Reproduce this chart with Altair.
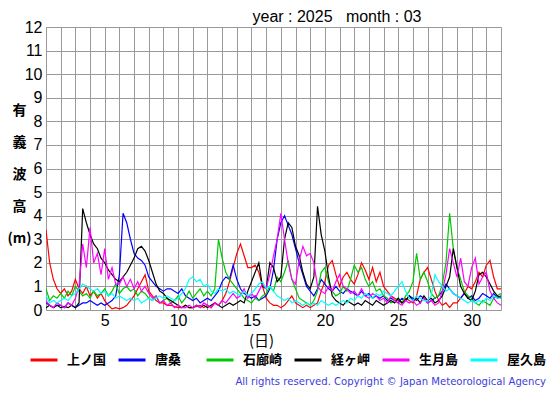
import altair as alt
import pandas as pd

stations = ["上ノ国", "唐桑", "石廊崎", "経ヶ岬", "生月島", "屋久島"]
colors = ["#ff0000", "#0000ff", "#00c800", "#000000", "#ff00ff", "#00ffff"]

# 6-hourly samples, day 1.00 .. 32.00 (4 per day)
red = [3.4, 2.0, 1.3, 0.9, 0.7, 0.9, 0.6, 0.8, 1.3, 0.9, 0.7, 1.0, 0.6, 0.8, 0.5, 0.7,
       0.4, 0.2, 0.05, 0.1, 0.05, 0.1, 0.2, 0.4, 0.6, 0.9, 1.2, 1.5, 0.8, 0.6, 0.4, 0.3,
       0.3, 0.2, 0.2, 0.15, 0.1, 0.1, 0.2, 0.1, 0.1, 0.15, 0.2, 0.1, 0.2, 0.1, 0.3, 0.2,
       0.4, 0.7, 1.2, 1.8, 2.4, 2.8, 2.3, 1.8, 1.8, 1.9, 1.6, 1.0, 0.5, 0.3, 0.2, 0.2,
       0.1, 0.2, 0.4, 0.6, 0.3, 0.2, 0.1, 0.2, 0.1, 0.2, 0.3, 0.8, 1.2, 1.9, 2.1, 1.5,
       1.0, 1.4, 1.6, 1.3, 1.1, 1.5, 2.0, 1.7, 1.3, 1.8, 1.2, 1.6, 1.0, 0.8, 0.6, 0.5,
       0.4, 0.3, 0.5, 0.4, 0.3, 0.6, 1.3, 1.6, 1.8, 1.3, 0.8, 0.4, 0.2, 0.3, 0.1, 0.3,
       0.3, 0.5, 0.7, 1.0, 0.9, 1.2, 1.6, 1.4, 1.9, 2.1, 1.4, 0.9, 0.9]
blue = [0.3, 0.2, 0.1, 0.2, 0.2, 0.1, 0.3, 0.2, 0.1, 0.2, 0.3, 0.3, 0.4, 0.3, 0.2, 0.3,
        0.2, 0.3, 0.4, 0.6, 1.5, 4.1, 3.7, 3.0, 2.4, 2.2, 2.1, 1.9, 1.4, 1.2, 1.0, 0.9,
        0.8, 0.9, 0.9, 0.8, 0.7, 0.9, 0.6, 0.5, 0.4, 0.5, 0.3, 0.4, 0.5, 0.4, 0.6, 0.8,
        1.2, 1.4, 1.3, 1.9, 1.3, 0.9, 0.7, 0.6, 0.5, 0.6, 0.4, 0.5, 0.6, 0.9, 1.7, 3.0,
        3.7, 4.0, 3.6, 3.2, 2.6, 2.0, 1.5, 1.0, 0.8, 0.6, 0.9, 1.3, 1.1, 0.9, 0.8, 1.0,
        0.8, 0.7, 0.9, 0.8, 0.7, 0.6, 0.8, 0.6, 0.7, 0.5, 0.6, 0.5, 0.6, 0.4, 0.5, 0.4,
        0.3, 0.5, 0.4, 0.6, 0.5, 0.4, 0.6, 0.5, 0.3, 0.4, 0.5, 0.6, 0.8, 1.1, 0.9, 0.7,
        0.6, 0.5, 0.7, 0.5, 0.6, 0.4, 0.5, 0.7, 0.6, 0.5, 0.7, 0.5, 0.6]
green = [0.9, 0.4, 0.6, 0.5, 0.7, 0.5, 0.8, 0.6, 1.0, 0.8, 0.6, 0.7, 0.5, 0.8, 0.6, 0.7,
         0.9, 0.6, 0.8, 1.1, 0.7, 0.9, 1.0, 0.8, 0.9, 0.6, 0.8, 0.7, 0.5, 0.4, 0.6, 0.3,
         0.4, 0.5, 0.3, 0.4, 0.6, 0.3, 0.5, 0.8, 0.5, 0.7, 0.9, 0.6, 0.8, 0.6, 0.9, 3.0,
         2.2, 1.6, 1.3, 1.1, 0.9, 0.7, 0.5, 0.4, 0.3, 0.5, 0.4, 0.6, 0.7, 1.0, 0.8, 1.4,
         1.2, 1.6, 2.1, 1.3, 0.9, 0.5, 0.4, 0.3, 0.2, 0.4, 0.8, 1.6, 1.8, 1.2, 0.8, 0.6,
         0.7, 1.0, 0.8, 1.3, 1.9, 1.6, 1.8, 1.3, 1.0, 1.2, 0.8, 0.9, 0.6, 0.5, 0.3, 0.4,
         0.5, 0.3, 0.6, 0.8, 1.2, 2.4, 1.3, 1.6, 1.2, 0.7, 0.5, 0.6, 1.1, 2.0, 4.1, 2.6,
         1.8, 1.3, 0.8, 0.6, 0.5, 0.3, 0.2, 0.4, 0.3, 0.2, 0.5, 0.6, 0.7]
black = [0.1, 0.2, 0.1, 0.2, 0.1, 0.15, 0.1, 0.2, 0.1, 0.3, 4.3, 3.7, 3.2, 2.8, 2.6, 2.2,
         2.0, 1.7, 1.5, 1.3, 1.2, 1.4, 1.6, 1.9, 2.2, 2.6, 2.7, 2.5, 2.1, 1.6, 1.1, 0.8,
         0.7, 0.5, 0.4, 0.3, 0.2, 0.1, 0.2, 0.1, 0.1, 0.2, 0.1, 0.2, 0.1, 0.2, 0.3, 0.2,
         0.1, 0.2, 0.3, 0.2, 0.3, 0.4, 0.3, 0.8, 1.2, 1.6, 2.0, 1.0, 0.9, 2.0, 1.8, 1.2,
         1.4, 3.0, 3.7, 3.5, 2.7, 2.3, 1.6, 1.1, 0.9, 1.4, 4.4, 3.2, 2.5, 1.4, 0.6, 0.4,
         0.3, 0.2, 0.4, 0.3, 0.2, 0.3, 0.2, 0.4, 0.3, 0.2, 0.4, 0.3, 0.2, 0.3, 0.4, 0.3,
         0.5, 0.3, 0.4, 0.6, 0.4, 0.5, 0.3, 0.6, 0.4, 0.5, 0.3, 0.4, 0.6, 1.0, 1.4, 2.6,
         1.8, 1.0, 0.7, 0.5, 0.4, 0.8, 1.5, 1.6, 1.4, 1.1, 0.8, 0.6, 0.5]
magenta = [0.4, 0.2, 0.1, 0.3, 0.2, 0.1, 0.3, 0.2, 0.5, 1.0, 2.8, 1.8, 3.5, 2.0, 2.4, 1.5,
           2.6, 1.3, 1.8, 1.1, 1.1, 1.4, 1.0, 1.3, 0.9, 1.2, 0.8, 1.0, 0.7, 0.5, 0.6, 0.3,
           0.4, 0.2, 0.3, 0.1, 0.2, 0.1, 0.1, 0.2, 0.1, 0.2, 0.1, 0.3, 0.2, 0.1, 0.3, 0.2,
           0.4, 0.3, 0.5, 0.7, 0.5, 0.6, 0.9, 0.5, 0.7, 0.5, 0.8, 1.1, 0.9, 1.5, 2.3, 3.0,
           4.1, 3.0, 2.0, 1.3, 1.1, 2.1, 2.7, 2.3, 2.4, 2.0, 1.0, 0.8, 0.7, 1.0, 0.8, 1.2,
           1.5, 1.0, 0.9, 0.7, 0.8, 0.6, 0.9, 0.6, 0.5, 0.7, 0.6, 0.4, 0.5, 0.3, 0.6, 0.4,
           0.3, 0.2, 0.4, 0.3, 0.4, 0.2, 0.3, 0.5, 0.3, 0.4, 0.2, 0.3, 0.8, 1.5, 2.6, 2.0,
           1.4, 2.2, 1.2, 1.0, 1.8, 2.2, 1.1, 1.4, 1.6, 0.8, 0.5, 0.3, 0.2]
cyan = [0.6, 0.3, 0.4, 0.3, 0.4, 0.5, 0.4, 0.6, 0.7, 0.9, 1.1, 1.0, 0.9, 0.8, 0.9, 0.7,
        0.8, 0.6, 0.7, 0.5, 0.6, 0.5, 0.4, 0.5, 0.4, 0.5, 0.3, 0.4, 0.5, 0.4, 0.5, 0.6,
        0.5, 0.6, 0.5, 0.4, 0.5, 0.7, 0.9, 1.3, 1.4, 1.2, 1.3, 1.0, 1.1, 0.8, 0.7, 0.9,
        0.8, 0.9, 0.7, 0.8, 0.7, 0.6, 0.8, 0.6, 0.7, 0.9, 1.1, 1.2, 0.9, 1.0, 0.8, 0.6,
        0.5, 0.4, 0.5, 0.3, 0.4, 0.3, 0.2, 0.3, 0.2, 0.3, 0.2, 0.4, 0.3, 0.2, 0.3, 0.2,
        0.3, 0.4, 0.3, 0.5, 0.4, 0.6, 0.5, 0.7, 0.6, 0.5, 0.7, 0.6, 0.8, 0.7, 0.6, 0.8,
        1.0, 1.2, 0.8, 0.5, 0.4, 0.6, 0.5, 0.4, 0.4, 0.6, 1.5, 1.2, 1.0, 0.8, 0.9, 0.7,
        0.6, 0.5, 0.4, 0.3, 0.4, 0.3, 0.4, 0.3, 0.5, 0.4, 0.6, 0.5, 0.5]

series = [red, blue, green, black, magenta, cyan]
n = len(red)
days = [1 + i / 4 for i in range(n)]

rows = []
for name, vals in zip(stations, series):
    for d, v in zip(days, vals):
        rows.append({"day": d, "value": v, "station": name})
df = pd.DataFrame(rows)

x_ticks = list(range(1, 33))
y_ticks = list(range(0, 13))

lines = alt.Chart(df).mark_line(strokeWidth=1.2, clip=True).encode(
    x=alt.X("day:Q",
            scale=alt.Scale(domain=[1, 32], nice=False, zero=False),
            axis=alt.Axis(values=x_ticks,
                          labelExpr="datum.value % 5 == 0 ? datum.label : ''",
                          labelOverlap=False, labelFlush=False,
                          grid=True, gridColor="#999999", gridWidth=1,
                          ticks=False, domain=False,
                          labelFont="Liberation Sans", labelFontSize=16,
                          labelColor="black", labelPadding=2,
                          title="(日)", titleFont="Noto Sans CJK JP",
                          titleFontSize=15, titleFontWeight="normal",
                          titleColor="black", titleX=215, titleY=30,
                          titleBaseline="middle", titleAlign="center")),
    y=alt.Y("value:Q",
            scale=alt.Scale(domain=[0, 12], nice=False, zero=True),
            axis=alt.Axis(values=y_ticks, labelOverlap=False, labelFlush=False,
                          grid=True, gridColor="#999999", gridWidth=1,
                          ticks=False, domain=False,
                          labelFont="Liberation Sans", labelFontSize=16,
                          labelColor="black", labelPadding=4,
                          title=["有", "義", "波", "高", "(m)"],
                          titleAngle=0, titleFont="Noto Sans CJK JP",
                          titleFontSize=14, titleFontWeight="bold",
                          titleColor="black", titleX=-27, titleY=76,
                          titleAlign="center", titleBaseline="top",
                          titleLineHeight=32)),
    color=alt.Color("station:N",
                    scale=alt.Scale(domain=stations, range=colors),
                    legend=alt.Legend(orient="none", legendX=-17, legendY=318,
                                      direction="horizontal", title=None,
                                      symbolType="stroke", symbolSize=729,
                                      symbolStrokeWidth=3, gridAlign="all",
                                      columnPadding=5, labelOffset=8,
                                      labelFont="Noto Sans CJK JP",
                                      labelFontSize=13, labelFontWeight="bold",
                                      labelColor="black", padding=0)),
)

title = alt.Chart(pd.DataFrame({"t": ["year : 2025\u00a0\u00a0\u00a0month : 03"]})).mark_text(
    font="Liberation Sans", fontSize=16, color="black", align="center", baseline="middle"
).encode(text="t:N", x=alt.value(291), y=alt.value(-10))

copyright_txt = alt.Chart(pd.DataFrame({"t": ["All rights reserved. Copyright \u00a9 Japan Meteorological Agency"]})).mark_text(
    font="DejaVu Sans", fontSize=10.1, color="#3c3cdc", align="right", baseline="alphabetic"
).encode(text="t:N", x=alt.value(500), y=alt.value(358))

chart = alt.layer(lines, title, copyright_txt).properties(
    width=455, height=283,
    autosize=alt.AutoSizeParams(type="none"),
    padding={"left": 38, "top": 19, "right": 46, "bottom": 77},
).configure_view(stroke="black", strokeWidth=2).configure(background="white")

chart.save("out.html", embed_options={"renderer": "svg", "actions": False})
